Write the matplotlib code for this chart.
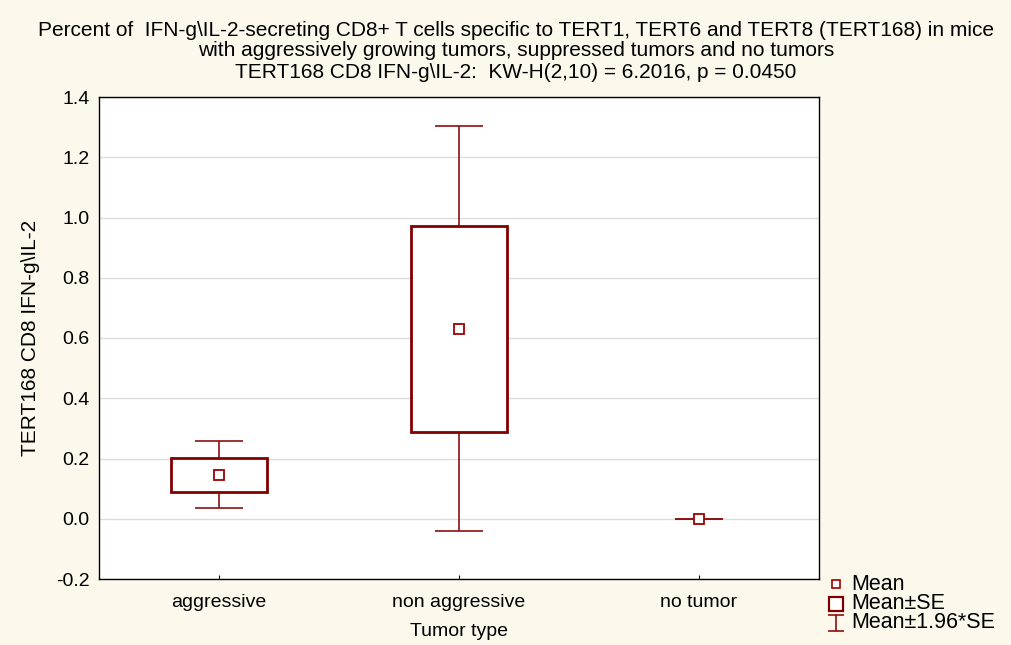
import matplotlib.pyplot as plt
from matplotlib.patches import Rectangle
from matplotlib.lines import Line2D
from matplotlib.path import Path

plt.rcParams['font.family'] = ['Liberation Sans', 'DejaVu Sans']
plt.rcParams['axes.unicode_minus'] = False

# group summaries: mean and standard error
groups = ['aggressive', 'non aggressive', 'no tumor']
means = [0.146, 0.630, 0.0]
se = [0.057, 0.343, 0.0]

title_lines = [
    'Percent of  IFN-g\\IL-2-secreting CD8+ T cells specific to TERT1, TERT6 and TERT8 (TERT168) in mice',
    'with aggressively growing tumors, suppressed tumors and no tumors',
    'TERT168 CD8 IFN-g\\IL-2:  KW-H(2,10) = 6.2016, p = 0.0450',
]
yticks = [-0.2, 0.0, 0.2, 0.4, 0.6, 0.8, 1.0, 1.2, 1.4]
legend_labels = ['Mean', 'Mean\u00b1SE', 'Mean\u00b11.96*SE']

BOX_COLOR = '#800000'
WHISK_COLOR = '#8B1010'
MEAN_COLOR = '#A00000'
BG = '#FDF8EC'
W, H = 1012, 645

fig = plt.figure(figsize=(W / 100, H / 100), dpi=100, facecolor=BG)
ax = fig.add_axes([99 / W, 1 - 579 / H, 720 / W, 482 / H])
ax.set_facecolor('white')

x = list(range(len(groups)))
ci = [1.96 * s for s in se]

# whiskers: mean +/- 1.96*SE
ax.errorbar(x, means, yerr=ci, fmt='none', ecolor=WHISK_COLOR,
            elinewidth=1.2, capsize=17.5, capthick=1.2, zorder=2)

# boxes: mean +/- SE
box_w = 0.4
for xi, m, s in zip(x, means, se):
    if s > 0:
        ax.add_patch(Rectangle((xi - box_w / 2, m - s), box_w, 2 * s,
                               facecolor='white', edgecolor=BOX_COLOR,
                               linewidth=2, zorder=3))

# means
ax.plot(x, means, linestyle='none', marker='s', markersize=6.5,
        markerfacecolor='white', markeredgecolor=MEAN_COLOR,
        markeredgewidth=1.3, zorder=4)

ax.set_xlim(-0.5, 2.5)
ax.set_ylim(-0.2, 1.4)
ax.set_yticks(yticks)
ax.set_yticklabels([f'{t:.1f}' for t in yticks])
ax.set_xticks(x)
ax.set_xticklabels(groups)
ax.tick_params(axis='y', length=0, pad=7, labelsize=14)
ax.tick_params(axis='x', direction='in', length=3, pad=10.5, labelsize=14)
ax.grid(axis='y', color='#DCDCDC', linewidth=1)
ax.set_axisbelow(True)
for sp in ax.spines.values():
    sp.set_color('black')
    sp.set_linewidth(1)

ax.set_ylabel('TERT168 CD8 IFN-g\\IL-2', fontsize=15, labelpad=11)
ax.set_xlabel('Tumor type', fontsize=14, labelpad=9)

for i, line in enumerate(title_lines):
    fig.text(516 / W, 1 - (30 + 21 * i) / H, line, ha='center',
             va='center', fontsize=15)

# legend drawn in figure pixels, below the right end of the plot
ibeam = Path([(-1, 1), (1, 1), (0, 1), (0, -1), (-1, -1), (1, -1)],
             [Path.MOVETO, Path.LINETO, Path.MOVETO, Path.LINETO,
              Path.MOVETO, Path.LINETO])
legend_styles = [
    dict(marker='s', markersize=6, markerfacecolor='white',
         markeredgecolor=MEAN_COLOR, markeredgewidth=1.2),
    dict(marker='s', markersize=10.5, markerfacecolor='white',
         markeredgecolor=BOX_COLOR, markeredgewidth=1.6),
    dict(marker=ibeam, markersize=12, markerfacecolor='none',
         markeredgecolor=WHISK_COLOR, markeredgewidth=1.2),
]
for i, (lab, style) in enumerate(zip(legend_labels, legend_styles)):
    yy = 1 - (584 + 19.5 * i) / H
    fig.add_artist(Line2D([836 / W], [yy], linestyle='none', **style))
    fig.text(851 / W, yy, lab, ha='left', va='center', fontsize=15.5)

fig.savefig('out.png', dpi=100, facecolor=BG)
